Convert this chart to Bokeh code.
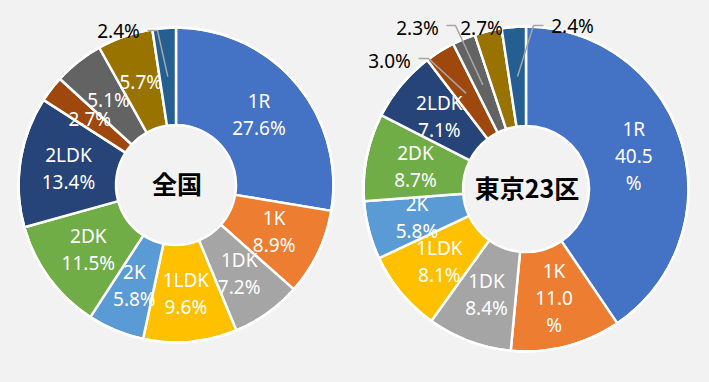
import numpy as np
from bokeh.plotting import figure
from bokeh.models import Range1d
from bokeh.core.properties import value
from bokeh.embed import file_html
from bokeh.resources import INLINE

# ---- data ----
categories = ["1R", "1K", "1DK", "1LDK", "2K", "2DK", "2LDK", "3K", "3DK", "3LDK", "その他"]
colors = ["#4472C4", "#ED7D31", "#A5A5A5", "#FFC000", "#5B9BD5", "#70AD47",
          "#264478", "#9E480E", "#636363", "#997300", "#255E91"]
zenkoku = [27.6, 8.9, 7.2, 9.6, 5.8, 11.5, 13.4, 2.7, 5.1, 5.7, 2.4]
tokyo23 = [40.5, 11.0, 8.4, 8.1, 5.8, 8.7, 7.1, 3.0, 2.3, 2.7, 2.4]
titles = ["全国", "東京23区"]

W, H = 693, 366
BG = "#f2f2f2"
p = figure(width=W, height=H, output_backend="svg", toolbar_location=None,
           x_range=Range1d(0, W), y_range=Range1d(0, H),
           min_border=0, background_fill_color=BG, border_fill_color=BG,
           outline_line_color=None)
p.axis.visible = False
p.grid.visible = False

FONT = value("Noto Sans")
FS = "19px"
LH = 27


def Y(ref_y):
    return H - ref_y


def draw_lines(x, y, lines, color):
    n = len(lines)
    xs, ys = [], []
    for i, t in enumerate(lines):
        xs.append(x)
        ys.append(y - (i - (n - 1) / 2) * LH)
    p.text(x=xs, y=ys, text=lines, text_color=color, text_font=FONT,
           text_font_size=FS, text_align="center", text_baseline="middle")


def donut(vals, cx, cy, R, r, title, wrap, outside):
    vals = np.array(vals, dtype=float)
    frac = vals / vals.sum()
    cum = np.concatenate([[0], np.cumsum(frac)])
    start = np.pi / 2 - cum[:-1] * 2 * np.pi
    end = np.pi / 2 - cum[1:] * 2 * np.pi
    cyd = Y(cy)
    p.annular_wedge(x=cx, y=cyd, inner_radius=r, outer_radius=R,
                    inner_radius_units="screen", outer_radius_units="screen",
                    start_angle=start, end_angle=end, direction="clock",
                    fill_color=colors, line_color="white", line_width=2.5)
    p.circle(x=[cx], y=[cyd], radius=R, radius_units="screen",
             fill_color=None, line_color="white", line_width=2.5)
    mid = (cum[:-1] + cum[1:]) / 2 * 2 * np.pi
    rm = (R + r) / 2
    mx = cx + rm * np.sin(mid)
    my = cyd + rm * np.cos(mid)
    for i, v in enumerate(vals):
        pct = f"{v:.1f}%"
        if i in outside:
            lx, ly, leader = outside[i]
            draw_lines(lx, Y(ly), [pct], "black")
            if leader:
                xs = [leader[0][0], leader[1][0], mx[i]]
                ys = [Y(leader[0][1]), Y(leader[1][1]), my[i]]
                p.line(xs, ys, line_color="#A6A6A6", line_width=1.5)
            continue
        if i in wrap:
            lines = wrap[i]
        elif i < 7:
            lines = [categories[i], pct]
        else:
            lines = [pct]
        draw_lines(mx[i], my[i], lines, "white")
    p.text(x=[cx + 1], y=[Y(cy - 2)], text=[title], text_color="black",
           text_font=value("Noto Sans CJK JP"), text_font_style="bold",
           text_font_size="25px", text_align="center", text_baseline="middle")


donut(zenkoku, 175.5, 184.5, 157.5, 60, titles[0], {},
      {10: (118, 30, [(147, 30), (157, 30)])})
donut(tokyo23, 525.5, 188.5, 162.5, 63, titles[1],
      {0: ["1R", "40.5", "%"], 1: ["1K", "11.0", "%"]},
      {7: (389, 60, [(418, 58), (428, 58)]),
       8: (417, 27, [(446, 25), (455, 25)]),
       9: (481, 27, None),
       10: (572, 25, [(543, 25), (533, 25)])})

html = file_html(p, INLINE)
html = html.replace("<head>", "<head><style>body{background:#f2f2f2;}</style>", 1)
open("out.html", "w").write(html)
